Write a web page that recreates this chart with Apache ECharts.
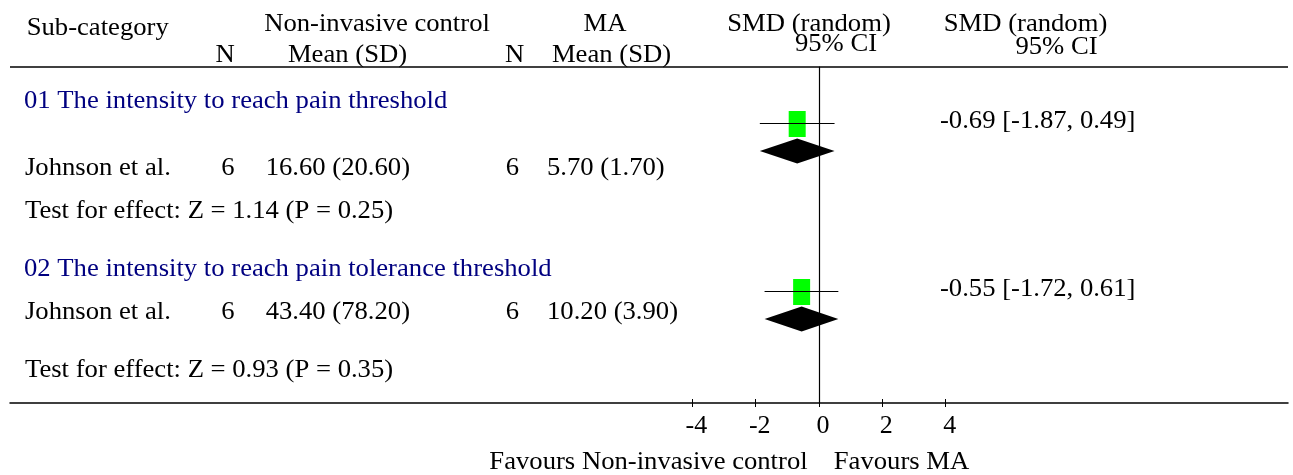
<!DOCTYPE html>
<html>
<head>
<meta charset="utf-8">
<script src="https://cdn.jsdelivr.net/npm/echarts@6/dist/echarts.min.js"></script>
<style>
  html, body { margin: 0; padding: 0; background: #fff; }
  #forest { width: 1293px; height: 475px; }
</style>
</head>
<body>
<div id="forest"></div>
<script>
// data
const subgroups = ['01 The intensity to reach pain threshold', '02 The intensity to reach pain tolerance threshold'];
const studies = ['Johnson et al.', 'Johnson et al.'];
const nControl = [6, 6];
const meanControl = [16.60, 43.40];
const sdControl = [20.60, 78.20];
const nMA = [6, 6];
const meanMA = [5.70, 10.20];
const sdMA = [1.70, 3.90];
const smd = [-0.69, -0.55];
const ciLow = [-1.87, -1.72];
const ciHigh = [0.49, 0.61];
const subtotalSmd = [-0.69, -0.55];
const subtotalLow = [-1.87, -1.72];
const subtotalHigh = [0.49, 0.61];
const testZ = [1.14, 0.93];
const testP = [0.25, 0.35];
const xTicks = [-4, -2, 0, 2, 4];

// layout (rows of the table, in y-axis units; 1 unit = one 28px line)
const studyRow = [2, 8];
const subtotalRow = [3, 9];

const FS = 26;
const FONT = FS + 'px "Liberation Serif", "Times New Roman", serif';

function txt(s, x, base, align, color) {
  return {
    type: 'text', x: x, y: base - 7.5, scaleX: 1.025, silent: true,
    style: { text: s, font: FONT, fill: color || '#000', textAlign: align || 'left', textVerticalAlign: 'middle' }
  };
}
const fmt = (m, sd) => m.toFixed(2) + ' (' + sd.toFixed(2) + ')';

const texts = [
  txt('Sub-category', 26.7, 36),
  txt('Non-invasive control', 377, 32, 'center'),
  txt('N', 225, 63, 'center'),
  txt('Mean (SD)', 347.5, 63, 'center'),
  txt('MA', 605, 32, 'center'),
  txt('N', 514.5, 63, 'center'),
  txt('Mean (SD)', 611.5, 63, 'center'),
  txt('SMD (random)', 809, 32, 'center'),
  txt('95% CI', 836, 52, 'center'),
  txt('SMD (random)', 1025.5, 32, 'center'),
  txt('95% CI', 1056.5, 55, 'center'),
  txt('Favours Non-invasive control', 648.5, 470, 'center'),
  txt('Favours MA', 901.5, 470, 'center')
];
const headBase = [108.5, 277];
const studyBase = [176, 320];
const testBase = [218.5, 378];
const resBase = [128.5, 297];
subgroups.forEach((g, i) => {
  texts.push(txt(g, 24, headBase[i], 'left', '#000080'));
  texts.push(txt(studies[i], 25, studyBase[i]));
  texts.push(txt(String(nControl[i]), 228, studyBase[i], 'center'));
  texts.push(txt(fmt(meanControl[i], sdControl[i]), 410, studyBase[i], 'right'));
  texts.push(txt(String(nMA[i]), 512.5, studyBase[i], 'center'));
  texts.push(txt(fmt(meanMA[i], sdMA[i]), 547, studyBase[i], 'left'));
  texts.push(txt('Test for effect: Z = ' + testZ[i].toFixed(2) + ' (P = ' + testP[i].toFixed(2) + ')', 25, testBase[i]));
  texts.push(txt(smd[i].toFixed(2) + ' [' + ciLow[i].toFixed(2) + ', ' + ciHigh[i].toFixed(2) + ']', 940, resBase[i]));
});

// custom series rows: [estimate, low, high, row, kind(0 study, 1 subtotal)]
const rows = [];
smd.forEach((v, i) => {
  rows.push([v, ciLow[i], ciHigh[i], studyRow[i], 0]);
  rows.push([subtotalSmd[i], subtotalLow[i], subtotalHigh[i], subtotalRow[i], 1]);
});

const chart = echarts.init(document.getElementById('forest'));
const axisCommon = {
  type: 'value', min: -25.55, max: 14.81,
  splitLine: { show: false }
};
chart.setOption({
  animation: false,
  grid: { left: 10, right: 5, top: 67, bottom: 72, outerBoundsMode: 'none' },
  xAxis: [
    Object.assign({}, axisCommon, {
      position: 'bottom',
      axisLine: { onZero: false, lineStyle: { color: '#000', width: 1.5 } },
      axisTick: { customValues: xTicks, inside: false, length: 4, lineStyle: { color: '#000' } },
      axisLabel: {
        customValues: xTicks, color: '#000', fontSize: FS, fontFamily: 'Liberation Serif',
        margin: 10, padding: [0, 0, 0, 8]
      }
    }),
    Object.assign({}, axisCommon, {
      position: 'top', offset: -336,
      axisLine: { show: false, onZero: false },
      axisTick: { customValues: xTicks, inside: false, length: 4, lineStyle: { color: '#000' } },
      axisLabel: { show: false }
    })
  ],
  yAxis: {
    type: 'value', min: 0, max: 12, inverse: true,
    axisLine: { show: true, onZero: true, lineStyle: { color: '#000', width: 1.2 } },
    axisTick: { show: false }, axisLabel: { show: false }, splitLine: { show: false }
  },
  graphic: texts,
  series: [{
    type: 'custom',
    data: rows,
    encode: { x: [0, 1, 2], y: 3 },
    renderItem: function (params, api) {
      const row = api.value(3);
      const c = api.coord([api.value(0), row]);
      const l = api.coord([api.value(1), row]);
      const h = api.coord([api.value(2), row]);
      if (api.value(4) === 0) {
        const y = Math.round(c[1]) + 0.5;
        return {
          type: 'group',
          children: [
            { type: 'rect', shape: { x: c[0] - 8.5, y: c[1] - 12, width: 17, height: 26 }, style: { fill: '#00ff00' } },
            { type: 'line', shape: { x1: l[0], y1: y, x2: h[0], y2: y }, style: { stroke: '#000', lineWidth: 1 } }
          ]
        };
      }
      return {
        type: 'polygon',
        shape: { points: [[l[0], c[1]], [c[0], c[1] - 12.5], [h[0], c[1]], [c[0], c[1] + 12.5]] },
        style: { fill: '#000' }
      };
    },
    markLine: {
      silent: true, symbol: 'none', label: { show: false },
      lineStyle: { color: '#000', width: 1.5, type: 'solid' },
      data: [{ yAxis: 0 }]
    }
  }]
});
</script>
</body>
</html>
